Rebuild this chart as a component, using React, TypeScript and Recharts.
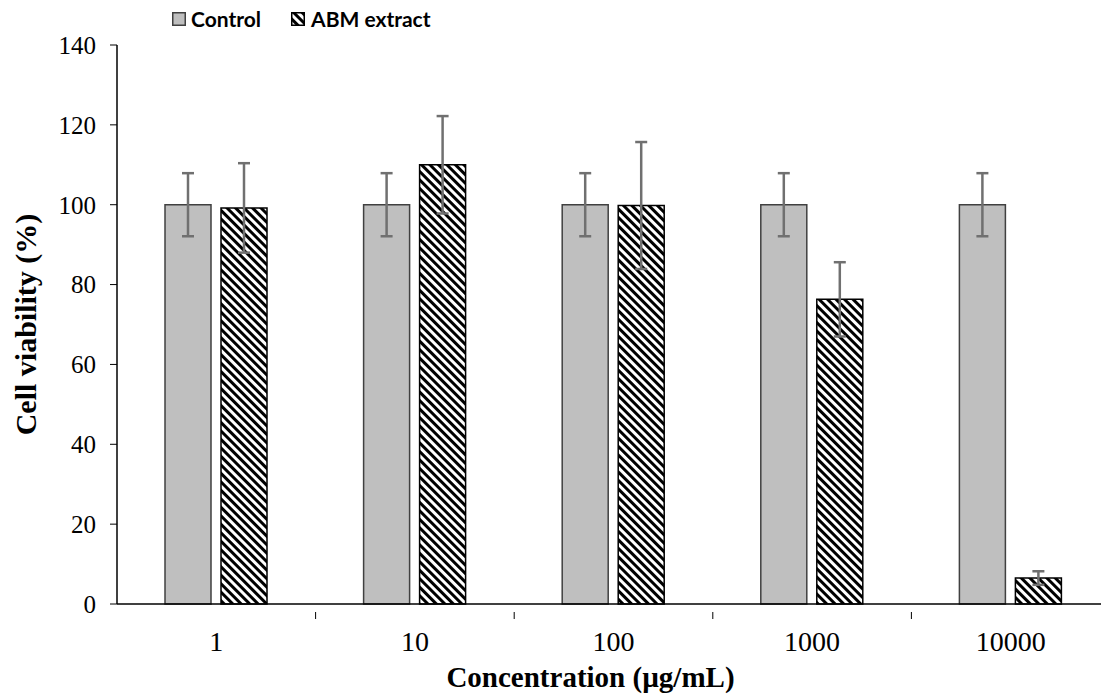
import {
  BarChart,
  Bar,
  XAxis,
  YAxis,
  ErrorBar,
  Label,
} from 'recharts'

const concentrations = ['1', '10', '100', '1000', '10000']
const control = [100, 100, 100, 100, 100]
const controlErr = [7.9, 7.9, 7.9, 7.9, 7.9]
const abm = [99.2, 110, 99.8, 76.3, 6.5]
const abmErr = [11.2, 12.2, 15.9, 9.3, 1.7]
const yTicks = [0, 20, 40, 60, 80, 100, 120, 140]

const CHART_W = 1120
const CHART_H = 695
const MARGIN = { top: 45, right: 10, left: 57, bottom: 0 }
const BAND = (CHART_W - MARGIN.left - 60 - MARGIN.right) / concentrations.length

const serif = '"Liberation Serif", "Times New Roman", serif'

const data = concentrations.map((c, i) => ({
  conc: c,
  control: control[i],
  controlErr: controlErr[i],
  abm: abm[i],
  abmErr: abmErr[i],
}))

function XTick(props: any) {
  const { x, y, payload } = props
  return (
    <g>
      <line x1={x + BAND / 2} y1={y} x2={x + BAND / 2} y2={y + 7} stroke="#000" strokeWidth={1} />
      <text x={x} y={y + 49} textAnchor="middle" fontFamily={serif} fontSize={28} fill="#000" dy={-10}>
        {payload.value}
      </text>
    </g>
  )
}

function XTitle(props: any) {
  const { viewBox } = props
  const cx = viewBox.x + viewBox.width / 2 - 23
  return (
    <text x={cx} y={viewBox.y + viewBox.height - 8} textAnchor="middle" fontFamily={serif} fontSize={29} fontWeight={700} fill="#000">
      Concentration (µg/mL)
    </text>
  )
}

function LegendBox() {
  const item = { display: 'flex', alignItems: 'center' }
  return (
    <div
      style={{
        position: 'absolute',
        left: 172,
        top: 7,
        display: 'flex',
        fontFamily: 'Lato, sans-serif',
        fontWeight: 700,
        fontSize: 21,
        color: '#000',
        lineHeight: '24px',
      }}
    >
      <div style={{ ...item, marginRight: 30 }}>
        <svg width={14} height={14} style={{ marginRight: 5 }}>
          <rect x={0.75} y={0.75} width={12.5} height={12.5} fill="#bfbfbf" stroke="#404040" strokeWidth={1.5} />
        </svg>
        Control
      </div>
      <div style={item}>
        <svg width={14} height={14} style={{ marginRight: 6 }}>
          <rect x={0.75} y={0.75} width={12.5} height={12.5} fill="url(#hatch)" stroke="#000" strokeWidth={1.5} />
        </svg>
        ABM extract
      </div>
    </div>
  )
}

export default function App() {
  return (
    <div style={{ position: 'absolute', left: 0, top: 0, width: 1101, height: 695, overflow: 'hidden', background: '#fff' }}>
      <BarChart
        width={CHART_W}
        height={CHART_H}
        data={data}
        margin={MARGIN}
        barSize={46}
        barGap={10}
      >
        <defs>
          <pattern id="hatch" width={6} height={6} patternUnits="userSpaceOnUse" patternTransform="rotate(-45)">
            <rect x={0} y={0} width={6} height={6} fill="#fff" />
            <rect x={0} y={0} width={3} height={6} fill="#000" />
          </pattern>
        </defs>
        <XAxis
          dataKey="conc"
          height={91}
          axisLine={{ stroke: '#000', strokeWidth: 1.5 }}
          tickLine={false}
          tick={<XTick />}
          interval={0}
        >
          <Label content={<XTitle />} />
        </XAxis>
        <YAxis
          width={60}
          domain={[0, 140]}
          ticks={yTicks}
          interval={0}
          axisLine={{ stroke: '#000', strokeWidth: 1.5 }}
          tickLine={{ stroke: '#000' }}
          tickSize={7}
          tickMargin={14}
          tick={{ fontFamily: serif, fontSize: 25, fill: '#000' }}
        >
          <Label
            value="Cell viability (%)"
            angle={-90}
            position="insideLeft"
            offset={-32}
            style={{ fontFamily: serif, fontSize: 30, fontWeight: 700, fill: '#000', textAnchor: 'middle' }}
          />
        </YAxis>
        <Bar
          dataKey="control"
          name="Control"
          fill="#bfbfbf"
          stroke="#404040"
          strokeWidth={1.5}
          isAnimationActive={false}
        >
          <ErrorBar dataKey="controlErr" width={6} stroke="#707070" strokeWidth={2.5} />
        </Bar>
        <Bar
          dataKey="abm"
          name="ABM extract"
          fill="url(#hatch)"
          stroke="#000"
          strokeWidth={1.5}
          isAnimationActive={false}
        >
          <ErrorBar dataKey="abmErr" width={6} stroke="#707070" strokeWidth={2.5} />
        </Bar>
      </BarChart>
      <LegendBox />
    </div>
  )
}
